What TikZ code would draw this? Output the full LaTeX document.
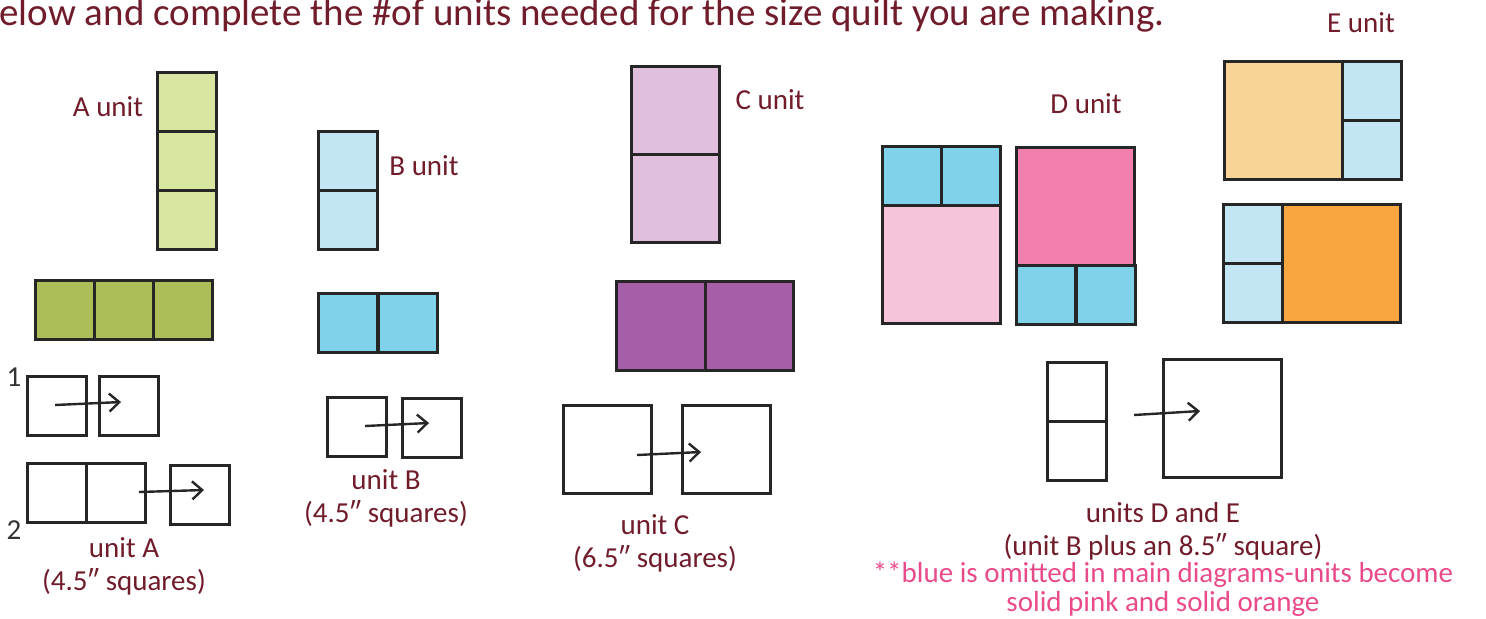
\documentclass[tikz,border=0pt]{standalone}
\usepackage{fontspec}
\setmainfont{Carlito}
\usepackage{xcolor}
\usetikzlibrary{arrows.meta}

\definecolor{textred}{RGB}{112,28,42}
\definecolor{notepink}{RGB}{233,75,138}
\definecolor{greenlight}{RGB}{215,230,160}
\definecolor{greendark}{RGB}{171,190,87}
\definecolor{bluelight}{RGB}{195,230,244}
\definecolor{bluemid}{RGB}{128,210,234}
\definecolor{purplelight}{RGB}{223,191,220}
\definecolor{purpledark}{RGB}{165,94,167}
\definecolor{pinklight}{RGB}{246,195,218}
\definecolor{pinkmid}{RGB}{242,128,175}
\definecolor{orangelight}{RGB}{248,212,151}
\definecolor{orangemid}{RGB}{249,166,64}

\begin{document}
\begin{tikzpicture}[
    x=0.5pt, y=-0.5pt,
    sq/.style={draw=black!85, line width=1.5pt, inner sep=0pt, minimum size=#1},
    sqr/.style 2 args={draw=black!85, line width=1.5pt, inner sep=0pt, minimum width=#1, minimum height=#2},
    lbl/.style={font=\fontsize{14.5}{16.5}\selectfont, text=textred, align=center},
    num/.style={font=\fontsize{14.5}{16.5}\selectfont, text=black!80},
    note/.style={font=\fontsize{14.5}{16.5}\selectfont, text=notepink, align=center},
    arrow/.style={-{Straight Barb[length=5pt, width=9pt]}, line width=1.2pt, black!85}
]
\useasboundingbox (0,0) rectangle (1486,618);

% Heading
\node[anchor=base west, inner sep=0pt, font=\fontsize{19.5}{21}\selectfont, text=textred] (title) at (-1,25) {elow and complete the \#of units needed for the size quilt you are making.};

% A unit
\node[lbl] (alabel) at (108,107) {A unit};
\node[sq=29.5pt, fill=greenlight] (a1) at (186.5,101.5) {};
\node[sq=29.5pt, fill=greenlight] (a2) at (186.5,160.5) {};
\node[sq=29.5pt, fill=greenlight] (a3) at (186.5,219.5) {};
\node[sq=29.5pt, fill=greendark] (ah1) at (64.5,309.5) {};
\node[sq=29.5pt, fill=greendark] (ah2) at (123.5,309.5) {};
\node[sq=29.5pt, fill=greendark] (ah3) at (182.5,309.5) {};

% unit A steps
\node[num] (one) at (14,377) {1};
\node[sq=29.5pt] (p1) at (57,405.5) {};
\node[sq=29.5pt] (p2) at (128.5,405.5) {};
\coordinate (p1a) at (55,405);
\coordinate (p1b) at (121,402);
\draw[arrow] (p1a) -- (p1b);
\node[num] (two) at (14,530) {2};
\node[sqr={59pt}{29.5pt}] (q1) at (86,493) {};
\draw[line width=1.5pt, black!85] (q1.north) -- (q1.south);
\node[sq=29.5pt] (q2) at (199.5,494.5) {};
\coordinate (q1a) at (139,492);
\coordinate (q2b) at (204,490);
\draw[arrow] (q1a) -- (q2b);
\node[lbl] (acap) at (124,566) {unit A\\(4.5\char"2033\ squares)};

% B unit
\node[lbl] (blabel) at (424,166) {B unit};
\node[sq=29.5pt, fill=bluelight] (b1) at (348,160.5) {};
\node[sq=29.5pt, fill=bluelight] (b2) at (348,219.5) {};
\node[sq=29.5pt, fill=bluemid] (bh1) at (348,322.5) {};
\node[sq=29.5pt, fill=bluemid] (bh2) at (407.5,322.5) {};

% unit B steps
\node[sq=29.5pt] (r1) at (356.5,426.5) {};
\node[sq=29.5pt] (r2) at (431.5,427.5) {};
\coordinate (r1a) at (365,426);
\coordinate (r2b) at (429,423);
\draw[arrow] (r1a) -- (r2b);
\node[lbl] (bcap) at (386,498) {unit B\\(4.5\char"2033\ squares)};

% C unit
\node[lbl] (clabel) at (770,100) {C unit};
\node[sq=44.25pt, fill=purplelight] (c1) at (675.5,111) {};
\node[sq=44.25pt, fill=purplelight] (c2) at (675.5,198.5) {};
\node[sq=44.25pt, fill=purpledark] (ch1) at (661,326) {};
\node[sq=44.25pt, fill=purpledark] (ch2) at (749.5,326) {};

% unit C steps
\node[sq=44.25pt] (s1) at (607.5,449.5) {};
\node[sq=44.25pt] (s2) at (726.5,449.5) {};
\coordinate (s1a) at (637,455);
\coordinate (s2b) at (701,452);
\draw[arrow] (s1a) -- (s2b);
\node[lbl] (ccap) at (655,543) {unit C\\(6.5\char"2033\ squares)};

% D unit
\node[lbl] (dlabel) at (1086,104) {D unit};
\node[sq=29.5pt, fill=bluemid] (d1) at (911.5,175.5) {};
\node[sq=29.5pt, fill=bluemid] (d2) at (971,175.5) {};
\node[sq=59pt, fill=pinklight] (d3) at (941.5,264.5) {};
\node[sq=59pt, fill=pinkmid] (d4) at (1075.5,206.5) {};
\node[sq=29.5pt, fill=bluemid] (d5) at (1046,294.5) {};
\node[sq=29.5pt, fill=bluemid] (d6) at (1105.5,294.5) {};

% E unit
\node[lbl] (elabel) at (1361,23) {E unit};
\node[sq=59pt, fill=orangelight] (e1) at (1283,120) {};
\node[sq=29.5pt, fill=bluelight] (e2) at (1371.5,90.5) {};
\node[sq=29.5pt, fill=bluelight] (e3) at (1371.5,149.5) {};
\node[sq=29.5pt, fill=bluelight] (e4) at (1253,233.5) {};
\node[sq=29.5pt, fill=bluelight] (e5) at (1253,292.5) {};
\node[sq=59pt, fill=orangemid] (e6) at (1341,263) {};

% units D and E steps
\node[sq=29.5pt] (t1) at (1077,391.5) {};
\node[sq=29.5pt] (t2) at (1077,450.5) {};
\node[sq=59pt] (t3) at (1222,418) {};
\coordinate (t1a) at (1134,415);
\coordinate (t3b) at (1200,411);
\draw[arrow] (t1a) -- (t3b);
\node[lbl] (decap) at (1163,531) {units D and E\\(unit B plus an 8.5\char"2033\ square)};
\node[note] (denote) at (1163,589) {**blue is omitted in main diagrams-units become\\[-2pt]solid pink and solid orange};

\end{tikzpicture}
\end{document}
